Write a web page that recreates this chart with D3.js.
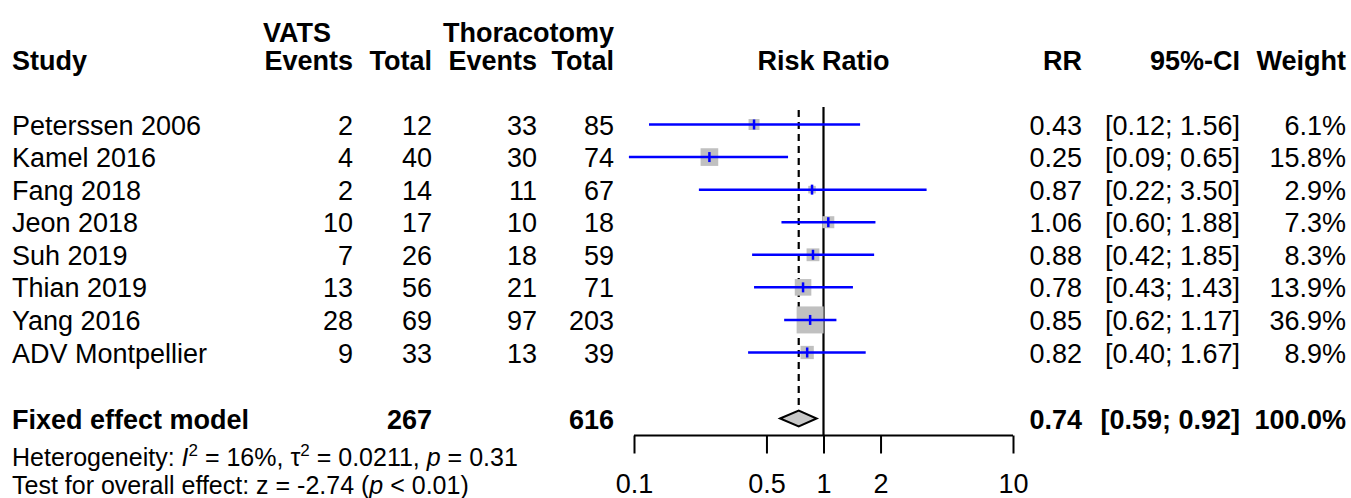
<!DOCTYPE html>
<html>
<head>
<meta charset="utf-8">
<script src="https://cdn.jsdelivr.net/npm/d3@7"></script>
<style>
  body { margin: 0; background: #fff; }
  svg text { font-family: "Liberation Sans", Arial, sans-serif; fill: #000; }
</style>
</head>
<body>
<svg></svg>
<script>
// Study data
const studies = ["Peterssen 2006", "Kamel 2016", "Fang 2018", "Jeon 2018",
  "Suh 2019", "Thian 2019", "Yang 2016", "ADV Montpellier"];
const vatsEvents = [2, 4, 2, 10, 7, 13, 28, 9];
const vatsTotal = [12, 40, 14, 17, 26, 56, 69, 33];
const thorEvents = [33, 30, 11, 10, 18, 21, 97, 13];
const thorTotal = [85, 74, 67, 18, 59, 71, 203, 39];
const rr = [0.43, 0.25, 0.87, 1.06, 0.88, 0.78, 0.85, 0.82];
const ciLow = [0.12, 0.094, 0.22, 0.60, 0.42, 0.43, 0.62, 0.40];
const ciHigh = [1.56, 0.65, 3.50, 1.88, 1.85, 1.43, 1.17, 1.67];
const weight = [6.1, 15.8, 2.9, 7.3, 8.3, 13.9, 36.9, 8.9];

// Fixed effect model
const pooled = [0.74, 0.59, 0.92];
const pooledTotals = [267, 616];
const axisTicks = [0.1, 0.5, 1, 2, 10];

const width = 1351;
const height = 498;
const fontSize = 27;

const svg = d3.select("svg").attr("width", width).attr("height", height);

// Scales
const x = d3.scaleLog().domain([0.1, 10]).range([634, 1013]);
const y = d3.scalePoint().domain(studies).range([124.5, 352.5]);
const size = d3.scaleSqrt().domain([0, d3.max(weight)]).range([0, 27]);
const yPooled = 418.5;
const yAxis = 435.5;

// Column right edges (text-anchor end)
const col = { vE: 353, vT: 432, tE: 537, tT: 614, rr: 1082, ci: 1240, w: 1346 };

const fmt2 = d3.format(".2f");

// Header
const header = svg.append("g").style("font-weight", "bold").style("font-size", fontSize + "px");
header.append("text").attr("x", 12).attr("y", 70).text("Study");
header.append("text").attr("x", 263).attr("y", 42).text("VATS");
header.append("text").attr("x", col.tT).attr("y", 42).attr("text-anchor", "end").text("Thoracotomy");
[["Events", col.vE], ["Total", col.vT], ["Events", col.tE], ["Total", col.tT],
 ["RR", col.rr], ["95%-CI", col.ci], ["Weight", col.w]].forEach(([t, cx]) => {
  header.append("text").attr("x", cx).attr("y", 70).attr("text-anchor", "end").text(t);
});
header.append("text").attr("x", x(1)).attr("y", 70).attr("text-anchor", "middle").text("Risk Ratio");

// Study rows text
const rows = svg.append("g").style("font-size", fontSize + "px")
  .selectAll("g").data(studies).join("g")
  .attr("transform", (d) => `translate(0, ${y(d) + 10})`);
rows.append("text").attr("x", 12).text((d) => d);
const cols = [[vatsEvents, col.vE], [vatsTotal, col.vT], [thorEvents, col.tE], [thorTotal, col.tT]];
cols.forEach(([arr, cx]) => {
  rows.append("text").attr("x", cx).attr("text-anchor", "end").text((d, i) => arr[i]);
});
rows.append("text").attr("x", col.rr).attr("text-anchor", "end").text((d, i) => fmt2(rr[i]));
rows.append("text").attr("x", col.ci).attr("text-anchor", "end")
  .text((d, i) => `[${fmt2(ciLow[i])}; ${fmt2(ciHigh[i])}]`);
rows.append("text").attr("x", col.w).attr("text-anchor", "end").text((d, i) => weight[i].toFixed(1) + "%");

// Reference lines
svg.append("line")
  .attr("x1", x(1)).attr("x2", x(1)).attr("y1", 107).attr("y2", yAxis)
  .attr("stroke", "#000").attr("stroke-width", 2.2);
svg.append("line")
  .attr("x1", x(pooled[0])).attr("x2", x(pooled[0])).attr("y1", 110).attr("y2", yPooled - 8)
  .attr("stroke", "#000").attr("stroke-width", 2.2).attr("stroke-dasharray", "7,5");

// Weight squares, CI lines and point ticks
const marks = svg.append("g").selectAll("g").data(studies).join("g");
marks.append("rect")
  .attr("x", (d, i) => x(rr[i]) - size(weight[i]) / 2)
  .attr("y", (d, i) => y(d) - size(weight[i]) / 2)
  .attr("width", (d, i) => size(weight[i]))
  .attr("height", (d, i) => size(weight[i]))
  .attr("fill", "#c0c0c0");
marks.append("line")
  .attr("x1", (d, i) => x(ciLow[i])).attr("x2", (d, i) => x(ciHigh[i]))
  .attr("y1", (d) => y(d)).attr("y2", (d) => y(d))
  .attr("stroke", "#0000ff").attr("stroke-width", 2.5);
marks.append("line")
  .attr("x1", (d, i) => x(rr[i])).attr("x2", (d, i) => x(rr[i]))
  .attr("y1", (d) => y(d) - 5).attr("y2", (d) => y(d) + 5)
  .attr("stroke", "#0000ff").attr("stroke-width", 2.5);

// Pooled diamond
svg.append("polygon")
  .attr("points", [
    [x(pooled[1]), yPooled], [x(pooled[0]), yPooled - 8],
    [x(pooled[2]), yPooled], [x(pooled[0]), yPooled + 8]
  ].join(" "))
  .attr("fill", "#c8c8c8").attr("stroke", "#000").attr("stroke-width", 2);

// Pooled row text
const pr = svg.append("g").style("font-weight", "bold").style("font-size", fontSize + "px")
  .attr("transform", `translate(0, ${yPooled + 10})`);
pr.append("text").attr("x", 12).text("Fixed effect model");
pr.append("text").attr("x", col.vT).attr("text-anchor", "end").text(pooledTotals[0]);
pr.append("text").attr("x", col.tT).attr("text-anchor", "end").text(pooledTotals[1]);
pr.append("text").attr("x", col.rr).attr("text-anchor", "end").text(fmt2(pooled[0]));
pr.append("text").attr("x", col.ci).attr("text-anchor", "end")
  .text(`[${fmt2(pooled[1])}; ${fmt2(pooled[2])}]`);
pr.append("text").attr("x", col.w).attr("text-anchor", "end").text("100.0%");

// Axis
const axis = svg.append("g").attr("transform", `translate(0, ${yAxis})`)
  .call(d3.axisBottom(x).tickValues(axisTicks).tickFormat((d) => d).tickSize(18).tickPadding(20));
axis.select(".domain").attr("stroke", "#000").attr("stroke-width", 2)
  .attr("d", `M${x(0.1)},0H${x(10)}`);
axis.selectAll(".tick line").attr("stroke", "#000").attr("stroke-width", 2);
axis.selectAll(".tick text")
  .style("font-size", fontSize + "px")
  .style("font-family", '"Liberation Sans", Arial, sans-serif')
  .attr("fill", "#000");

// Heterogeneity and overall effect
const stat = svg.append("g").style("font-size", "25px");
const het = stat.append("text").attr("x", 12).attr("y", 466);
het.append("tspan").text("Heterogeneity: ");
het.append("tspan").style("font-style", "italic").text("I");
het.append("tspan").attr("dy", -10).style("font-size", "17px").text("2");
het.append("tspan").attr("dy", 10).text(" = 16%, \u03c4");
het.append("tspan").attr("dy", -10).style("font-size", "17px").text("2");
het.append("tspan").attr("dy", 10).text(" = 0.0211, ");
het.append("tspan").style("font-style", "italic").text("p");
het.append("tspan").text(" = 0.31");

const test = stat.append("text").attr("x", 12).attr("y", 494);
test.append("tspan").text("Test for overall effect: z = -2.74 (");
test.append("tspan").style("font-style", "italic").text("p");
test.append("tspan").text(" < 0.01)");
</script>
</body>
</html>
